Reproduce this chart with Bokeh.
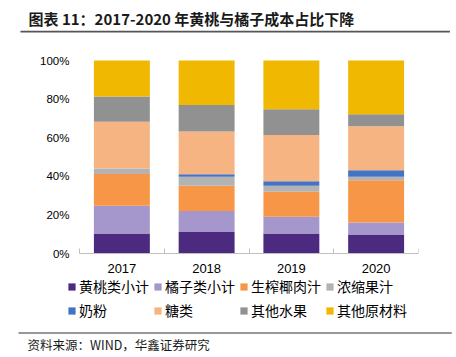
from bokeh.plotting import figure
from bokeh.models import (Range1d, FixedTicker, PrintfTickFormatter, Legend, LegendItem,
                          ColumnDataSource, Title, LinearAxis)
from bokeh.embed import file_html
from bokeh.resources import INLINE

years = ["2017", "2018", "2019", "2020"]
series = ["黄桃类小计", "橘子类小计", "生榨椰肉汁", "浓缩果汁", "奶粉", "糖类", "其他水果", "其他原材料"]
huangtao = [10.4, 11.1, 10.4, 9.9]
juzi = [14.4, 10.9, 8.6, 6.2]
yerou = [16.4, 13.1, 13.0, 21.8]
guozhi = [2.8, 4.7, 3.1, 1.9]
naifen = [0.0, 1.2, 2.3, 3.3]
tang = [24.2, 22.2, 24.0, 22.8]
shuiguo = [13.1, 13.8, 13.3, 6.2]
qita = [18.7, 23.0, 25.3, 27.9]
colors = ["#4B2A80", "#A597CB", "#F79646", "#B3B3B3", "#4472C4", "#F5B482", "#919191", "#F0B800"]
y_ticks = [0, 20, 40, 60, 80, 100]
title_text = "图表 11：2017-2020 年黄桃与橘子成本占比下降"
source_text = "资料来源：WIND，华鑫证券研究"

keys = ["s0", "s1", "s2", "s3", "s4", "s5", "s6", "s7"]
data = {"x": list(range(len(years)))}
for k, v in zip(keys, [huangtao, juzi, yerou, guozhi, naifen, tang, shuiguo, qita]):
    data[k] = v
src = ColumnDataSource(data)

# layout geometry (pixels): frame spans x 32..418, y 52..331; bars area x 79..418, y 60..253
FL, FR, FT, FB = 32, 418, 52, 331
AX_L, AX_T, AX_B = 79, 60, 253
px_per_x = (FR - AX_L) / len(years)
px_per_y = (AX_B - AX_T) / 100.0
x_start = -0.5 - (AX_L - FL) / px_per_x
y_start = -(FB - AX_B) / px_per_y
y_end = 100 + (AX_T - FT) / px_per_y

p = figure(width=456, height=357, output_backend="svg", toolbar_location=None,
           x_range=Range1d(x_start, len(years) - 0.5), y_range=Range1d(y_start, y_end),
           x_axis_location=None,
           min_border_left=FL, min_border_right=456 - FR, min_border_top=FT,
           min_border_bottom=357 - FB)
p.outline_line_color = None
p.grid.visible = False
p.background_fill_color = "white"
p.border_fill_color = "white"

rs = p.vbar_stack(keys, x="x", width=0.66, color=colors, source=src, line_width=0)

ya = p.yaxis[0]
ya.fixed_location = -0.5 - 10 / px_per_x
ya.ticker = FixedTicker(ticks=y_ticks)
ya.formatter = PrintfTickFormatter(format="%d%%")
ya.axis_line_color = None
ya.major_tick_line_color = None
ya.minor_tick_line_color = None
ya.major_tick_out = 0
ya.major_tick_in = 0
ya.major_label_text_font = "Liberation Sans"
ya.major_label_text_font_size = "11.5px"
ya.major_label_text_color = "#000000"
ya.major_label_standoff = 0


def rule(offset, length, color, size, standoff, valign):
    return Title(text=" ", text_font_size=size, align="left", offset=offset,
                 standoff=standoff, vertical_align=valign,
                 background_fill_color=color, border_line_color=None,
                 padding=dict(left=0, right=length, top=0, bottom=0))


# ----- above panel (frame outward) -----
p.add_layout(Title(text=" ", text_font_size="1px", standoff=17), "above")
p.add_layout(rule(20 - FL, 429, "#555555", "1.5px", 0, "bottom"), "above")
p.add_layout(Title(text=title_text, align="left", offset=28 - FL, standoff=0,
                   text_font="Noto Sans CJK SC", text_font_style="bold",
                   text_font_size="15px", text_color="#1A1A1A"), "above")

# x axis drawn at y = 0 inside the frame
xa = LinearAxis(fixed_location=0, bounds=(-0.5, len(years) - 0.5))
xa.ticker = FixedTicker(ticks=list(range(len(years))),
                        minor_ticks=[i - 0.5 for i in range(len(years) + 1)])
xa.major_label_overrides = {i: y for i, y in enumerate(years)}
xa.major_tick_line_color = None
xa.major_tick_out = 0
xa.major_tick_in = 0
xa.minor_tick_out = 5
xa.minor_tick_in = 0
xa.minor_tick_line_color = "#BFBFBF"
xa.axis_line_color = "#BFBFBF"
xa.major_label_text_font = "Liberation Sans"
xa.major_label_text_font_size = "13px"
xa.major_label_text_color = "#000000"
xa.major_label_standoff = -24
p.add_layout(xa, "above")

# ----- legend inside the extended frame -----
items = [LegendItem(label=s, renderers=[r]) for s, r in zip(series, rs)]
legend = Legend(items=items, orientation="horizontal", ncols=4,
                location=(67 - FL, FB - 320),
                glyph_width=9, glyph_height=9, label_standoff=3, label_width=70,
                label_height=20, spacing=4, padding=0, margin=0,
                border_line_color=None, background_fill_alpha=0,
                label_text_font="Noto Sans CJK SC", label_text_font_size="14px",
                label_text_color="#000000")
p.add_layout(legend, "center")

# ----- below panel (frame outward) -----
p.add_layout(rule(18 - FL, 433, "#333333", "1px", 2, "top"), "below")
p.add_layout(Title(text=source_text, align="left", offset=27 - FL, standoff=-3,
                   vertical_align="top",
                   text_font="Noto Sans CJK SC", text_font_style="normal",
                   text_font_size="12.5px", text_color="#1A1A1A"), "below")

open("out.html", "w").write(file_html(p, INLINE))
